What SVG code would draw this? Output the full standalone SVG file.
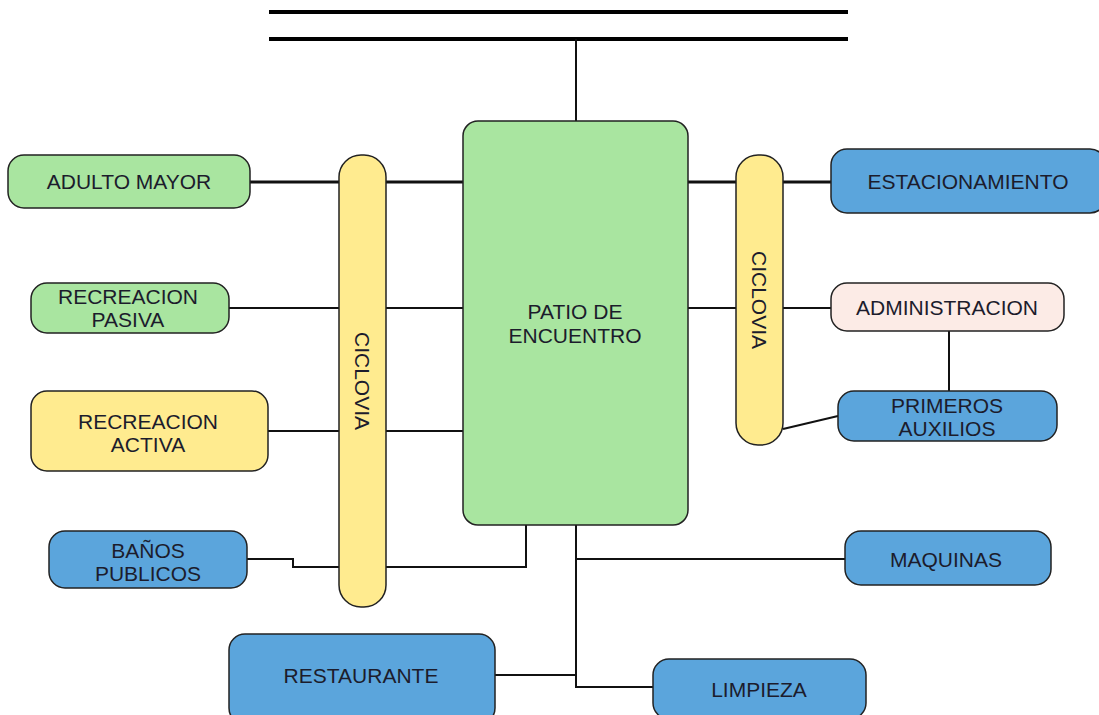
<svg xmlns="http://www.w3.org/2000/svg" width="1099" height="715" viewBox="0 0 1099 715">
<style>
.n{stroke:#222;stroke-width:1.5}
.g{fill:#a9e5a0}.y{fill:#ffeb8f}.b{fill:#5ba5dc}.p{fill:#fcebe6}
.t{font-family:"Liberation Sans",Arial,sans-serif;font-size:21px;fill:#1c1c2c;text-anchor:middle}
.c{fill:none;stroke:#111;stroke-width:2}
.k{stroke-width:3}
.r{fill:none;stroke:#000;stroke-width:4}
</style>
<rect width="1099" height="715" fill="#fff"/>
<g id="connectors">
<line class="r" x1="269" y1="12" x2="848" y2="12"/>
<line class="r" x1="269" y1="39" x2="848" y2="39"/>
<line class="c" x1="576" y1="39" x2="576" y2="121"/>
<line class="c k" x1="250" y1="182" x2="463" y2="182"/>
<line class="c k" x1="688" y1="182" x2="831" y2="182"/>
<line class="c" x1="229" y1="308" x2="463" y2="308"/>
<line class="c" x1="688" y1="308" x2="831" y2="308"/>
<line class="c" x1="268" y1="431" x2="463" y2="431"/>
<path class="c" d="M247,559 H293 V567 H526 V525"/>
<line class="c" x1="949" y1="331" x2="949" y2="391"/>
<line class="c" x1="783" y1="429" x2="838" y2="416"/>
<path class="c" d="M576,525 V687 H653"/>
<line class="c" x1="576" y1="559" x2="845" y2="559"/>
<line class="c" x1="495" y1="675" x2="576" y2="675"/>
</g>
<g id="patio"><rect class="n g" x="463" y="121" width="225" height="404" rx="15"/><text class="t" x="575" y="319">PATIO DE</text><text class="t" x="575" y="343">ENCUENTRO</text></g>
<g id="ciclovia-left"><rect class="n y" x="339" y="155" width="47" height="452" rx="22"/><text class="t" transform="translate(355,381) rotate(90)">CICLOVIA</text></g>
<g id="ciclovia-right"><rect class="n y" x="736" y="155" width="47" height="290" rx="22"/><text class="t" transform="translate(752,300) rotate(90)">CICLOVIA</text></g>
<g id="adulto-mayor"><rect class="n g" x="8" y="155" width="242" height="53" rx="16"/><text class="t" x="129" y="189">ADULTO MAYOR</text></g>
<g id="recreacion-pasiva"><rect class="n g" x="31" y="283" width="198" height="50" rx="16"/><text class="t" x="128" y="304">RECREACION</text><text class="t" x="128" y="327">PASIVA</text></g>
<g id="recreacion-activa"><rect class="n y" x="31" y="391" width="237" height="80" rx="16"/><text class="t" x="148" y="429">RECREACION</text><text class="t" x="148" y="452">ACTIVA</text></g>
<g id="banos-publicos"><rect class="n b" x="49" y="531" width="198" height="57" rx="16"/><text class="t" x="148" y="558">BAÑOS</text><text class="t" x="148" y="581">PUBLICOS</text></g>
<g id="estacionamiento"><rect class="n b" x="831" y="149" width="275" height="64" rx="16"/><text class="t" x="968" y="189">ESTACIONAMIENTO</text></g>
<g id="administracion"><rect class="n p" x="831" y="283" width="233" height="48" rx="16"/><text class="t" x="947" y="315">ADMINISTRACION</text></g>
<g id="primeros-auxilios"><rect class="n b" x="838" y="391" width="219" height="50" rx="16"/><text class="t" x="947" y="413">PRIMEROS</text><text class="t" x="947" y="436">AUXILIOS</text></g>
<g id="maquinas"><rect class="n b" x="845" y="531" width="206" height="54" rx="16"/><text class="t" x="946" y="567">MAQUINAS</text></g>
<g id="restaurante"><rect class="n b" x="229" y="634" width="266" height="90" rx="16"/><text class="t" x="361" y="683">RESTAURANTE</text></g>
<g id="limpieza"><rect class="n b" x="653" y="659" width="213" height="60" rx="16"/><text class="t" x="759" y="697">LIMPIEZA</text></g>
</svg>
